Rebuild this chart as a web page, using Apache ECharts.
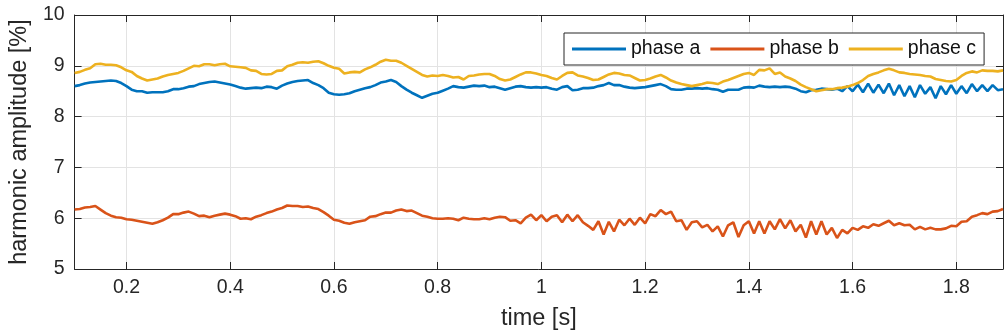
<!DOCTYPE html>
<html>
<head>
<meta charset="utf-8">
<script src="https://cdn.jsdelivr.net/npm/echarts@6/dist/echarts.min.js"></script>
<style>
  html, body { margin: 0; padding: 0; background: #fff; }
  #chart { width: 1007px; height: 336px; }
</style>
</head>
<body>
<div id="chart"></div>
<script>
// sampling of the recorded signal
const t0 = 0.10;
const dt = 0.01;

const xTicks = [0.2, 0.4, 0.6, 0.8, 1, 1.2, 1.4, 1.6, 1.8];
const yTicks = [5, 6, 7, 8, 9, 10];

const phaseA = [
  8.60, 8.62, 8.65, 8.67, 8.68, 8.69, 8.70, 8.71, 8.70, 8.66,
  8.60, 8.53, 8.50, 8.50, 8.47, 8.48, 8.48, 8.48, 8.50, 8.54,
  8.54, 8.56, 8.59, 8.60, 8.64, 8.66, 8.68, 8.69, 8.67, 8.65,
  8.63, 8.60, 8.57, 8.55, 8.56, 8.57, 8.56, 8.59, 8.58, 8.55,
  8.61, 8.65, 8.68, 8.70, 8.71, 8.72, 8.66, 8.62, 8.56, 8.47,
  8.44, 8.43, 8.44, 8.46, 8.50, 8.53, 8.56, 8.58, 8.62, 8.67,
  8.69, 8.72, 8.68, 8.60, 8.53, 8.47, 8.42, 8.37, 8.41, 8.45,
  8.47, 8.51, 8.55, 8.60, 8.58, 8.57, 8.59, 8.61, 8.60, 8.61,
  8.58, 8.59, 8.56, 8.53, 8.56, 8.59, 8.60, 8.58, 8.57, 8.58,
  8.57, 8.58, 8.55, 8.53, 8.58, 8.60, 8.52, 8.53, 8.56, 8.56,
  8.57, 8.60, 8.62, 8.66, 8.62, 8.62, 8.59, 8.57, 8.56, 8.57,
  8.58, 8.60, 8.62, 8.64, 8.60, 8.54, 8.53, 8.53, 8.55, 8.55,
  8.56, 8.55, 8.56, 8.54, 8.53, 8.49, 8.53, 8.53, 8.53, 8.57,
  8.58, 8.57, 8.61, 8.59, 8.58, 8.59, 8.58, 8.59, 8.58, 8.55,
  8.50, 8.48, 8.52, 8.53, 8.55, 8.54, 8.53, 8.55, 8.50, 8.60,
  8.50, 8.63, 8.48, 8.65, 8.47, 8.63, 8.46, 8.65, 8.42, 8.62,
  8.40, 8.60, 8.38, 8.62, 8.45, 8.58, 8.36, 8.60, 8.44, 8.62,
  8.45, 8.60, 8.46, 8.64, 8.50, 8.62, 8.50, 8.62, 8.52, 8.54
];

const phaseB = [
  6.17, 6.18, 6.21, 6.22, 6.24, 6.17, 6.10, 6.05, 6.02, 6.01,
  5.98, 5.97, 5.95, 5.93, 5.91, 5.89, 5.92, 5.96, 6.01, 6.08,
  6.08, 6.11, 6.13, 6.09, 6.04, 6.05, 6.02, 6.05, 6.07, 6.09,
  6.07, 6.04, 5.99, 6.00, 5.98, 6.03, 6.06, 6.10, 6.13, 6.17,
  6.20, 6.25, 6.24, 6.24, 6.22, 6.23, 6.20, 6.18, 6.12, 6.05,
  5.97, 5.95, 5.91, 5.89, 5.92, 5.94, 5.96, 6.03, 6.04, 6.08,
  6.11, 6.11, 6.15, 6.17, 6.14, 6.15, 6.10, 6.05, 6.03, 6.00,
  5.99, 5.99, 6.00, 5.99, 5.96, 6.01, 5.99, 5.98, 5.98, 6.00,
  5.98, 6.01, 6.03, 6.02, 5.95, 5.96, 5.90, 6.01, 6.07, 5.96,
  6.06, 5.94, 6.03, 6.06, 5.92, 6.07, 5.94, 6.06, 5.92, 5.85,
  5.77, 5.94, 5.68, 5.93, 5.74, 5.97, 5.86, 5.99, 5.87, 6.01,
  5.90, 6.08, 6.04, 6.16, 6.08, 6.13, 5.94, 5.96, 5.77, 5.92,
  5.94, 5.82, 5.87, 5.74, 5.84, 5.64, 5.86, 5.92, 5.63, 5.86,
  5.94, 5.70, 5.94, 5.70, 5.94, 5.78, 5.98, 5.80, 5.96, 5.74,
  5.87, 5.62, 5.94, 5.68, 5.94, 5.68, 5.81, 5.61, 5.77, 5.70,
  5.81, 5.77, 5.84, 5.81, 5.88, 5.85, 5.90, 5.95, 5.86, 5.90,
  5.86, 5.87, 5.78, 5.83, 5.78, 5.81, 5.78, 5.78, 5.80, 5.85,
  5.84, 5.93, 5.94, 6.03, 6.06, 6.10, 6.08, 6.13, 6.14, 6.18
];

const phaseC = [
  8.86, 8.88, 8.92, 8.95, 9.03, 9.04, 9.02, 9.02, 9.01, 8.97,
  8.91, 8.88, 8.80, 8.75, 8.71, 8.73, 8.75, 8.79, 8.82, 8.84,
  8.86, 8.90, 8.95, 9.00, 8.99, 9.03, 9.03, 9.01, 9.03, 9.04,
  8.99, 8.98, 8.97, 8.96, 8.91, 8.90, 8.84, 8.83, 8.84, 8.90,
  8.91, 8.99, 9.02, 9.06, 9.07, 9.06, 9.08, 9.09, 9.05, 9.00,
  8.96, 8.94, 8.85, 8.87, 8.88, 8.87, 8.93, 8.97, 9.02, 9.08,
  9.12, 9.10, 9.10, 9.06, 9.00, 8.94, 8.88, 8.82, 8.79, 8.81,
  8.80, 8.82, 8.80, 8.77, 8.78, 8.73, 8.80, 8.81, 8.83, 8.84,
  8.84, 8.80, 8.74, 8.71, 8.73, 8.78, 8.83, 8.87, 8.87, 8.85,
  8.82, 8.80, 8.76, 8.73, 8.80, 8.86, 8.87, 8.81, 8.79, 8.76,
  8.72, 8.73, 8.78, 8.83, 8.86, 8.85, 8.82, 8.81, 8.76, 8.71,
  8.72, 8.75, 8.79, 8.82, 8.77, 8.71, 8.67, 8.64, 8.62, 8.60,
  8.62, 8.64, 8.67, 8.66, 8.64, 8.69, 8.72, 8.76, 8.80, 8.84,
  8.86, 8.82, 8.92, 8.91, 8.95, 8.84, 8.87, 8.79, 8.75, 8.70,
  8.63, 8.58, 8.54, 8.50, 8.52, 8.54, 8.54, 8.56, 8.57, 8.59,
  8.62, 8.66, 8.72, 8.80, 8.84, 8.87, 8.91, 8.94, 8.91, 8.87,
  8.86, 8.84, 8.83, 8.82, 8.80, 8.79, 8.74, 8.72, 8.70, 8.69,
  8.72, 8.80, 8.86, 8.89, 8.87, 8.91, 8.90, 8.90, 8.89, 8.91
];

const seriesNames = ['phase a', 'phase b', 'phase c'];
const seriesColors = ['#0072BD', '#D95319', '#EDB120'];

const pairs = vals => vals.map((v, i) => [+(t0 + i * dt).toFixed(2), v]);

const font = "'Liberation Sans', Arial, Helvetica, sans-serif";
const ink = '#262626';
const xMin = 0.1, xMax = 1.89;

const chart = echarts.init(document.getElementById('chart'), null, { renderer: 'canvas' });

const baseX = {
  type: 'value',
  min: xMin,
  max: xMax,
  splitNumber: 9,
  minInterval: 0.2,
  maxInterval: 0.2,
  axisLine: { show: true, onZero: false, lineStyle: { color: ink, width: 1 } },
  axisTick: { show: true, inside: true, length: 7, lineStyle: { color: ink } }
};
const baseY = {
  type: 'value',
  min: 5,
  max: 10,
  interval: 1,
  axisLine: { show: true, onZero: false, lineStyle: { color: ink, width: 1 } },
  axisTick: { show: true, inside: true, length: 7, lineStyle: { color: ink } }
};

chart.setOption({
  animation: false,
  backgroundColor: '#fff',
  textStyle: { fontFamily: font },
  grid: { left: 72, right: 4, top: 15, bottom: 64 },
  legend: {
    data: seriesNames,
    left: 564,
    top: 33,
    orient: 'horizontal',
    icon: 'rect',
    itemWidth: 54,
    itemHeight: 3,
    itemGap: 10,
    padding: [5, 8, 5, 8],
    borderColor: ink,
    borderWidth: 1,
    backgroundColor: '#fff',
    textStyle: { fontFamily: font, fontSize: 19.5, color: '#111', lineHeight: 22 }
  },
  xAxis: [
    Object.assign({}, baseX, {
      position: 'bottom',
      name: 'time [s]',
      nameLocation: 'middle',
      nameGap: 38,
      nameTextStyle: { fontFamily: font, fontSize: 23.5, color: ink },
      axisLabel: {
        fontFamily: font, fontSize: 19.5, color: ink, margin: 9,
        showMinLabel: false, showMaxLabel: false,
        formatter: v => (xTicks.some(t => Math.abs(t - v) < 1e-6) ? String(+v.toFixed(1)) : '')
      },
      splitLine: { show: true, lineStyle: { color: '#e3e3e3', width: 1 } }
    }),
    Object.assign({}, baseX, {
      position: 'top',
      axisLabel: { show: false },
      splitLine: { show: false }
    })
  ],
  yAxis: [
    Object.assign({}, baseY, {
      position: 'left',
      name: 'harmonic amplitude [%]',
      nameLocation: 'middle',
      nameGap: 36,
      nameTextStyle: { fontFamily: font, fontSize: 23.5, color: ink },
      axisLabel: {
        fontFamily: font, fontSize: 19.5, color: ink, margin: 10,
        formatter: v => (yTicks.includes(v) ? String(v) : '')
      },
      splitLine: { show: true, lineStyle: { color: '#e3e3e3', width: 1 } }
    }),
    Object.assign({}, baseY, {
      position: 'right',
      axisLabel: { show: false },
      splitLine: { show: false }
    })
  ],
  series: [phaseA, phaseB, phaseC].map((vals, k) => ({
    name: seriesNames[k],
    type: 'line',
    data: pairs(vals),
    showSymbol: false,
    symbol: 'none',
    color: seriesColors[k],
    lineStyle: { color: seriesColors[k], width: 2.6 },
    z: 3 + k
  }))
});
</script>
</body>
</html>
